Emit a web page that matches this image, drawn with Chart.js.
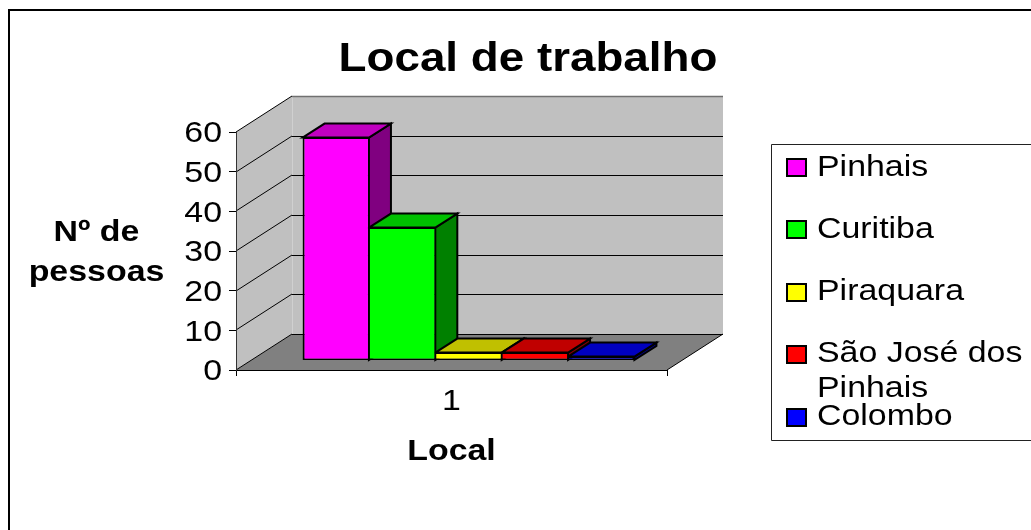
<!DOCTYPE html>
<html>
<head>
<meta charset="utf-8">
<style>html,body{margin:0;padding:0;background:#fff}canvas{display:block}</style>
<script src="https://cdn.jsdelivr.net/npm/chart.js@4/dist/chart.umd.min.js"></script>
</head>
<body>
<canvas id="c" width="1031" height="530"></canvas>
<script>
const categories = ['1'];
const seriesNames = ['Pinhais', 'Curitiba', 'Piraquara', 'São José dos Pinhais', 'Colombo'];
const seriesValues = [56.2, 33.5, 2, 2, 1];
const frontColors = ['#ff00ff', '#00ff00', '#ffff00', '#ff0000', '#0000ff'];
const topColors = ['#c000c0', '#00c000', '#c0c000', '#c00000', '#0000c0'];
const sideColors = ['#800080', '#008000', '#808000', '#800000', '#000080'];
const yTicks = [0, 10, 20, 30, 40, 50, 60];
const chartTitle = 'Local de trabalho';
const yTitleLines = ['Nº de', 'pessoas'];
const xTitle = 'Local';

const FONT = '"Liberation Sans", Arial, sans-serif';
const canvas = document.getElementById('c');
const ctx = canvas.getContext('2d');

// The reference's text is horizontally stretched; apply that to every label.
const STRETCH = 1.13;
const rawFillText = ctx.fillText.bind(ctx);
ctx.fillText = function (t, x, y, m) {
  const dy = ctx.textBaseline === 'middle' ? 2 : 0;
  ctx.save();
  ctx.scale(STRETCH, 1);
  rawFillText(t, x / STRETCH, y + dy);
  ctx.restore();
};

const WALL_DX = 56, WALL_DY = -36;      // depth of the chart box
const BAR_DX = 17, BAR_DY = -9.5;       // bars stand inside the box
const FACE_DX = 22, FACE_DY = -14;      // depth of one bar

function poly(c, pts, fill, stroke, lw) {
  c.beginPath();
  pts.forEach((p, i) => i ? c.lineTo(p[0], p[1]) : c.moveTo(p[0], p[1]));
  c.closePath();
  if (fill) { c.fillStyle = fill; c.fill(); }
  if (stroke) { c.strokeStyle = stroke; c.lineWidth = lw || 1; c.stroke(); }
}
function line(c, x1, y1, x2, y2, col, lw) {
  c.beginPath(); c.moveTo(x1, y1); c.lineTo(x2, y2);
  c.strokeStyle = col; c.lineWidth = lw || 1; c.stroke();
}

const boxPlugin = {
  id: 'box3d',
  afterLayout(chart) {
    chart.titleBlock.left = 28;
    chart.titleBlock.right = 1028;
  },
  beforeDraw(chart) {
    const c = chart.ctx, a = chart.chartArea, y = chart.scales.y;
    const b = y.getPixelForValue(0), t = y.getPixelForValue(60);
    const L = a.left, R = a.right;
    c.save();
    // outer frame
    c.fillStyle = '#000';
    c.fillRect(8, 9, 2, 521);
    c.fillRect(8, 9, 1023, 2);
    // back wall, side wall, floor
    poly(c, [[L + WALL_DX, t + WALL_DY], [R + WALL_DX, t + WALL_DY], [R + WALL_DX, b + WALL_DY], [L + WALL_DX, b + WALL_DY]], '#c0c0c0');
    poly(c, [[L, b], [L + WALL_DX, b + WALL_DY], [L + WALL_DX, t + WALL_DY], [L, t]], '#c0c0c0');
    poly(c, [[L, b], [R, b], [R + WALL_DX, b + WALL_DY], [L + WALL_DX, b + WALL_DY]], '#808080');
    // seam and top edge
    line(c, L + WALL_DX + .5, t + WALL_DY, L + WALL_DX + .5, b + WALL_DY, '#d0d0d0', 1);
    line(c, L + WALL_DX, t + WALL_DY + .5, R + WALL_DX, t + WALL_DY + .5, '#707070', 1.5);
    // gridlines following the walls
    yTicks.forEach(v => {
      const py = Math.round(y.getPixelForValue(v));
      line(c, L, py, L + WALL_DX, py + WALL_DY, '#000', 1);
      if (v > 0 && v < 60) line(c, L + WALL_DX, py + WALL_DY + .5, R + WALL_DX, py + WALL_DY + .5, '#000', 1);
    });
    line(c, L + WALL_DX, Math.round(b + WALL_DY) + .5, R + WALL_DX, Math.round(b + WALL_DY) + .5, '#000', 1);
    line(c, R, b, R + WALL_DX, b + WALL_DY, '#000', 1);
    c.restore();
  },
  beforeDatasetsDraw(chart) {
    const c = chart.ctx;
    c.save();
    c.translate(BAR_DX, BAR_DY);
    c.lineJoin = 'miter';
    chart.data.datasets.forEach((ds, i) => {
      const el = chart.getDatasetMeta(i).data[0];
      const p = el.getProps(['x', 'y', 'base', 'width'], true);
      const l = p.x - p.width / 2, r = p.x + p.width / 2;
      poly(c, [[r, p.y], [r + FACE_DX, p.y + FACE_DY], [r + FACE_DX, p.base + FACE_DY], [r, p.base]], sideColors[i], '#000', 2);
      poly(c, [[l, p.y], [l + FACE_DX, p.y + FACE_DY], [r + FACE_DX, p.y + FACE_DY], [r, p.y]], topColors[i], '#000', 2);
    });
  },
  afterDatasetsDraw(chart) {
    chart.ctx.restore();
  },
  afterDraw(chart) {
    const c = chart.ctx;
    c.save();
    c.fillStyle = '#000';
    c.textBaseline = 'alphabetic';
    // horizontal y-axis title
    c.textAlign = 'center';
    c.font = 'bold 30px ' + FONT;
    c.fillText(yTitleLines[0], 96.5, 241);
    c.fillText(yTitleLines[1], 96.5, 281);
    // legend
    c.fillStyle = '#fff';
    c.fillRect(771, 144, 260, 296);
    c.strokeStyle = '#222';
    c.lineWidth = 1;
    c.beginPath();
    c.moveTo(1031, 144.5); c.lineTo(771.5, 144.5); c.lineTo(771.5, 440.5); c.lineTo(1031, 440.5);
    c.stroke();
    const swatchY = [158, 220, 283, 345, 408];
    swatchY.forEach((sy, i) => {
      c.fillStyle = '#000';
      c.fillRect(786, sy, 21, 19);
      c.fillStyle = frontColors[i];
      c.fillRect(788, sy + 2, 17, 15);
    });
    c.fillStyle = '#000';
    c.textAlign = 'left';
    c.font = '30px ' + FONT;
    c.fillText('Pinhais', 817, 176);
    c.fillText('Curitiba', 817, 238);
    c.fillText('Piraquara', 817, 300);
    c.fillText('São José dos', 817, 362);
    c.fillText('Pinhais', 817, 397);
    c.fillText('Colombo', 817, 425);
    c.restore();
  }
};

new Chart(ctx, {
  type: 'bar',
  data: {
    labels: categories,
    datasets: seriesNames.map((name, i) => ({
      label: name,
      data: [seriesValues[i]],
      backgroundColor: frontColors[i],
      borderColor: '#000',
      borderWidth: { top: 1.5, bottom: 1.5, left: i === 0 ? 2 : 1, right: i === 4 ? 2 : 1 },
      borderSkipped: false,
      clip: false,
      barPercentage: 1,
      categoryPercentage: 0.77
    }))
  },
  options: {
    responsive: false,
    animation: false,
    devicePixelRatio: 1,
    layout: { padding: { left: 0, right: 364, top: 34, bottom: 0 } },
    plugins: {
      legend: { display: false },
      tooltip: { enabled: false },
      title: {
        display: true,
        text: chartTitle,
        color: '#000',
        font: { family: FONT, size: 40.5, weight: 'bold', lineHeight: 1.2 },
        padding: { top: 0, bottom: 49.4 }
      }
    },
    scales: {
      x: {
        afterFit(s) { s.height = 160; },
        grid: { drawOnChartArea: false, drawTicks: true, tickLength: 6, color: '#000', offset: true },
        border: { display: true, color: '#000', width: 1 },
        ticks: { color: '#000', padding: 6, maxRotation: 0, font: { family: FONT, size: 30 } },
        title: { display: true, text: xTitle, color: '#000', padding: { top: 0, bottom: 62 }, font: { family: FONT, size: 30, weight: 'bold' } }
      },
      y: {
        min: 0,
        max: 60,
        afterFit(s) { s.width = 236; },
        afterBuildTicks(s) { s.ticks = yTicks.map(v => ({ value: v })); },
        grid: { drawOnChartArea: false, drawTicks: true, tickLength: 7, color: '#000' },
        border: { display: true, color: '#333', width: 1 },
        ticks: { color: '#000', padding: 7, font: { family: FONT, size: 30 } }
      }
    }
  },
  plugins: [boxPlugin]
});
</script>
</body>
</html>
